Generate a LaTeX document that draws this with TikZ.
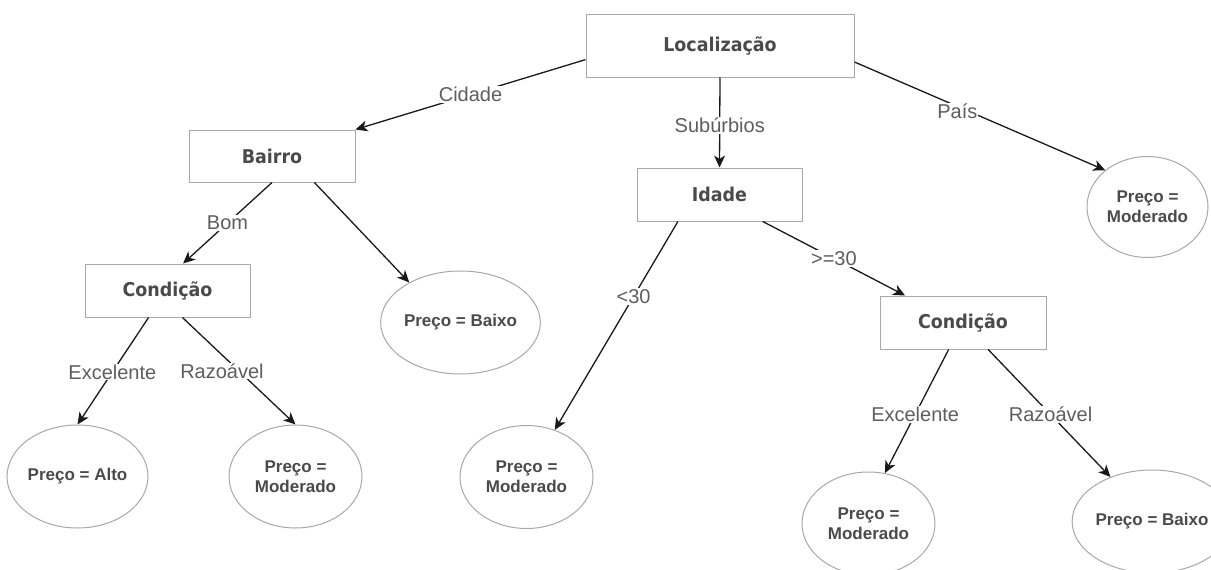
\documentclass[tikz,border=0pt]{standalone}
\usepackage{fontspec}
\setmainfont{Liberation Sans}
\newfontfamily\boxfont[FakeStretch=0.92]{DejaVu Sans}
\usetikzlibrary{arrows.meta,shapes.geometric}
\definecolor{boxline}{HTML}{A8A8A8}
\definecolor{boxtext}{HTML}{4A4A4A}
\definecolor{lbltext}{HTML}{5E5E5E}

\begin{document}
\begin{tikzpicture}[x=1pt,y=-1pt,>={Stealth[length=12pt,width=11pt,inset=3.5pt]},line join=round,
  test/.style={draw=boxline,line width=1pt,fill=white,text=boxtext,font=\boxfont\bfseries\fontsize{19}{22}\selectfont,inner sep=0pt},
  leaf/.style={ellipse,draw=boxline,line width=1pt,fill=white,text=boxtext,font=\bfseries\fontsize{17}{20}\selectfont,align=center,inner sep=0pt,minimum width=133pt,minimum height=103pt},
  branch/.style={fill=white,text=lbltext,font=\fontsize{20}{22}\selectfont,inner sep=1pt},
  edge/.style={->,line width=1.3pt,draw=black!90}]
  \useasboundingbox (0,0) rectangle (1211,570);
  \clip (0,0) rectangle (1211,570);
  \node[test,minimum width=268pt,minimum height=63pt] (loc) at (720,45.5) {Localização};
  \node[test,minimum width=166pt,minimum height=52pt] (bairro) at (272,156) {Bairro};
  \node[test,minimum width=165pt,minimum height=53pt] (idade) at (719.5,194.5) {Idade};
  \node[test,minimum width=165pt,minimum height=53pt] (condA) at (167.5,290.5) {Condição};
  \node[test,minimum width=166pt,minimum height=53pt] (condB) at (963,322.5) {Condição};
  \node[leaf,minimum width=121pt,minimum height=101pt] (pais) at (1147.5,207) {Preço =\\Moderado};
  \node[leaf] (baixoA) at (460.5,322.5) {Preço = Baixo};
  \node[leaf] (alto) at (77.5,476.5) {Preço = Alto};
  \node[leaf] (modA) at (295.5,476.5) {Preço =\\Moderado};
  \node[leaf] (modB) at (526.5,477) {Preço =\\Moderado};
  \node[leaf] (modC) at (868.5,523.5) {Preço =\\Moderado};
  \node[leaf] (baixoB) at (1152,521.5) {Preço = Baixo};
  \draw[edge] (loc.186.6) -- node[branch,pos=0.5] {Cidade} (bairro.north east);
  \draw[edge] (loc.south) -- node[branch,pos=0.53] {Subúrbios} (idade.north);
  \draw[edge] (loc.-7) -- node[branch,pos=0.41,yshift=-5pt] {País} (pais.139);
  \draw[edge] (bairro.south) -- node[branch,pos=0.5] {Bom} (condA.60);
  \draw[edge] (bairro.-32) -- (baixoA.142);
  \draw[edge] (condA.-125) -- node[branch,pos=0.51] {Excelente} (alto.north);
  \draw[edge] (condA.-61) -- node[branch,pos=0.5,xshift=-17pt] {Razoável} (modA.north);
  \draw[edge] (idade.-147) -- node[branch,pos=0.36] {<30} (modB.59);
  \draw[edge] (idade.-32) -- node[branch,pos=0.5] {>=30} (condB.155);
  \draw[edge] (condB.-118) -- node[branch,pos=0.525] {Excelente} (modC.72);
  \draw[edge] (condB.-47) -- node[branch,pos=0.51] {Razoável} (baixoB.133);
\end{tikzpicture}
\end{document}
